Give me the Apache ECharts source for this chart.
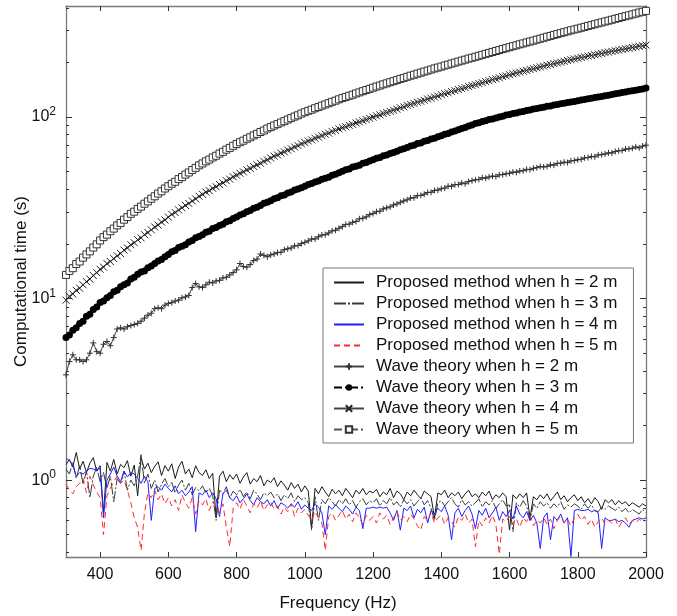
<!DOCTYPE html>
<html>
<head>
<meta charset="utf-8">
<script src="https://cdn.jsdelivr.net/npm/echarts@6/dist/echarts.min.js"></script>
<style>
  html, body { margin: 0; padding: 0; background: #fff; }
  #chart { width: 677px; height: 616px; }
</style>
</head>
<body>
<div id="chart"></div>
<script>
// frequency grid, 300..2000 Hz every 10 Hz
const freqStart = 300
const freqStep = 10

// proposed method, computational time (s)
const propH2 = [
  1.22, 1.30, 1.18, 1.42, 1.15, 1.27, 1.10, 1.24, 1.33, 1.12,
  1.20, 0.66, 1.25, 1.12, 1.30, 1.08, 1.22, 1.17, 1.28, 1.05,
  1.21, 0.82, 1.33, 1.15, 1.24, 1.10, 1.19, 1.26, 1.06, 1.20,
  1.12, 1.23, 1.02, 1.18, 1.27, 1.08, 1.15, 1.03, 1.20, 1.10,
  1.06, 1.14, 1.02, 1.09, 0.62, 1.05, 1.12, 0.98, 1.07, 1.01,
  1.08, 0.96, 1.04, 1.10, 0.95, 1.02, 0.98, 1.06, 0.93, 1.00,
  0.97, 1.03, 0.92, 0.99, 0.94, 0.88, 0.97, 0.90, 0.95, 0.86,
  0.93, 0.87, 0.55, 0.90, 0.84, 0.92, 0.86, 0.81, 0.89, 0.84,
  0.88, 0.82, 0.90, 0.85, 0.80, 0.88, 0.84, 0.90, 0.83, 0.87,
  0.85, 0.89, 0.81, 0.86, 0.83, 0.90, 0.80, 0.87, 0.84, 0.78,
  0.86, 0.82, 0.88, 0.83, 0.79, 0.87, 0.84, 0.81, 0.62, 0.85,
  0.83, 0.88, 0.80, 0.85, 0.82, 0.86, 0.79, 0.84, 0.88, 0.81,
  0.84, 0.80, 0.86, 0.82, 0.87, 0.78, 0.83, 0.80, 0.85, 0.81,
  0.53, 0.83, 0.79, 0.84, 0.80, 0.85, 0.62, 0.81, 0.78, 0.83,
  0.79, 0.84, 0.77, 0.81, 0.86, 0.78, 0.82, 0.76, 0.80, 0.83,
  0.77, 0.81, 0.75, 0.79, 0.74, 0.80, 0.76, 0.69, 0.78, 0.75,
  0.78, 0.73, 0.77, 0.74, 0.76, 0.72, 0.75, 0.73, 0.71, 0.74,
  0.72
]
const propH3 = [
  1.15, 1.08, 1.25, 1.02, 1.20, 0.95, 1.12, 0.80, 1.05, 1.18,
  0.98, 1.10, 0.90, 1.05, 0.76, 1.02, 0.95, 1.12, 0.88, 1.00,
  0.93, 1.05, 1.38, 0.96, 1.08, 0.90, 1.00, 0.86, 0.95, 1.02,
  0.92, 0.97, 0.85, 0.94, 1.00, 0.88, 0.96, 0.83, 0.91, 0.87,
  0.93, 0.85, 0.90, 0.82, 0.60, 0.88, 0.84, 0.92, 0.80, 0.87,
  0.83, 0.89, 0.81, 0.86, 0.79, 0.88, 0.84, 0.78, 0.85, 0.82,
  0.86, 0.80, 0.84, 0.77, 0.83, 0.79, 0.85, 0.76, 0.82, 0.78,
  0.80, 0.75, 0.53, 0.81, 0.60, 0.78, 0.74, 0.80, 0.76, 0.72,
  0.78, 0.74, 0.79, 0.73, 0.77, 0.71, 0.76, 0.79, 0.73, 0.77,
  0.75, 0.79, 0.72, 0.77, 0.74, 0.80, 0.73, 0.76, 0.71, 0.78,
  0.74, 0.78, 0.72, 0.76, 0.80, 0.73, 0.77, 0.70, 0.60, 0.75,
  0.77, 0.72, 0.76, 0.80, 0.74, 0.71, 0.78, 0.73, 0.76, 0.72,
  0.75, 0.79, 0.71, 0.76, 0.73, 0.77, 0.70, 0.74, 0.78, 0.72,
  0.73, 0.52, 0.75, 0.71, 0.77, 0.72, 0.60, 0.74, 0.70, 0.76,
  0.72, 0.75, 0.70, 0.74, 0.71, 0.76, 0.69, 0.73, 0.71, 0.74,
  0.72, 0.69, 0.74, 0.70, 0.73, 0.68, 0.67, 0.71, 0.69, 0.72,
  0.70, 0.68, 0.71, 0.67, 0.70, 0.66, 0.69, 0.67, 0.65, 0.69,
  0.66
]
const propH4 = [
  1.32, 1.28, 1.22, 1.05, 1.10, 1.08, 1.12, 1.16, 1.15, 1.14,
  1.16, 0.62, 1.00, 1.08, 1.18, 1.05, 0.98, 1.12, 1.04, 1.10,
  1.08, 1.02, 0.96, 1.05, 0.98, 0.60, 0.90, 0.92, 0.88, 0.95,
  0.90, 0.86, 0.93, 0.84, 0.88, 0.82, 0.86, 0.92, 0.52, 0.85,
  0.83, 0.88, 0.80, 0.85, 0.79, 0.63, 0.84, 0.88, 0.80, 0.77,
  0.82, 0.75, 0.79, 0.84, 0.77, 0.73, 0.80, 0.76, 0.74, 0.78,
  0.72, 0.77, 0.70, 0.75, 0.73, 0.70, 0.74, 0.71, 0.76, 0.69,
  0.73, 0.70, 0.68, 0.74, 0.71, 0.66, 0.50, 0.72, 0.69, 0.73,
  0.70, 0.67, 0.72, 0.69, 0.65, 0.71, 0.68, 0.54, 0.70, 0.70,
  0.71, 0.70, 0.71, 0.70, 0.71, 0.66, 0.60, 0.68, 0.53, 0.70,
  0.68, 0.72, 0.62, 0.69, 0.66, 0.71, 0.58, 0.68, 0.65, 0.70,
  0.67, 0.72, 0.64, 0.47, 0.66, 0.70, 0.63, 0.68, 0.72, 0.65,
  0.54, 0.68, 0.64, 0.70, 0.62, 0.66, 0.71, 0.60, 0.67, 0.63,
  0.68, 0.61, 0.72, 0.65, 0.62, 0.67, 0.60, 0.64, 0.58, 0.42,
  0.62, 0.66, 0.47, 0.63, 0.60, 0.65, 0.58, 0.62, 0.38, 0.68,
  0.69, 0.68, 0.68, 0.69, 0.67, 0.68, 0.66, 0.42, 0.62, 0.60,
  0.60, 0.61, 0.59, 0.60, 0.58, 0.55, 0.60, 0.61, 0.62, 0.61,
  0.62
]
const propH5 = [
  0.95, 0.88, 0.84, 0.92, 0.96, 1.02, 0.85, 1.05, 0.94, 0.86,
  0.80, 0.50, 0.82, 0.90, 0.98, 1.05, 0.96, 1.00, 0.88, 0.75,
  0.62, 0.55, 0.41, 0.66, 0.85, 0.80, 0.88, 0.78, 0.84, 0.74,
  0.80, 0.72, 0.78, 0.68, 0.83, 0.75, 0.70, 0.80, 0.65, 0.77,
  0.73, 0.79, 0.68, 0.76, 0.71, 0.66, 0.74, 0.55, 0.43, 0.70,
  0.75, 0.69, 0.78, 0.72, 0.66, 0.74, 0.70, 0.77, 0.68, 0.73,
  0.76, 0.69, 0.72, 0.65, 0.71, 0.67, 0.74, 0.63, 0.70, 0.66,
  0.69, 0.64, 0.60, 0.67, 0.62, 0.58, 0.41, 0.63, 0.66, 0.60,
  0.64, 0.68, 0.61, 0.65, 0.59, 0.66, 0.62, 0.57, 0.64, 0.60,
  0.63, 0.58, 0.66, 0.61, 0.64, 0.57, 0.62, 0.67, 0.60, 0.63,
  0.59, 0.65, 0.61, 0.56, 0.53, 0.63, 0.60, 0.66, 0.58, 0.62,
  0.64, 0.57, 0.62, 0.59, 0.55, 0.63, 0.60, 0.65, 0.58, 0.61,
  0.43, 0.60, 0.56, 0.62, 0.58, 0.64, 0.57, 0.39, 0.61, 0.59,
  0.63, 0.57, 0.61, 0.55, 0.62, 0.59, 0.64, 0.56, 0.60, 0.58,
  0.62, 0.57, 0.61, 0.54, 0.60, 0.63, 0.58, 0.61, 0.56, 0.62,
  0.65, 0.60, 0.63, 0.57, 0.61, 0.55, 0.59, 0.62, 0.57, 0.60,
  0.58, 0.61, 0.55, 0.59, 0.62, 0.57, 0.60, 0.58, 0.61, 0.59,
  0.60
]

// wave theory, computational time (s)
const waveH2 = [
  3.8, 4.5, 4.9, 4.6, 4.6, 4.5, 4.6, 5.0, 5.7, 5.1,
  5.0, 5.6, 5.8, 5.5, 6.1, 6.8, 6.9, 6.8, 7.0, 7.1,
  7.2, 7.3, 7.5, 7.8, 8.1, 8.3, 8.8, 8.9, 8.8, 9.2,
  9.4, 9.5, 9.7, 9.8, 10.1, 10.2, 10.4, 11.5, 12.1, 11.6,
  11.5, 11.9, 12.3, 12.2, 12.5, 12.6, 13.0, 13.1, 13.5, 13.9,
  14.4, 15.6, 15.0, 14.9, 15.4, 16.2, 16.5, 17.6, 17.3, 17.0,
  17.4, 17.6, 17.9, 18.0, 18.6, 18.8, 19.0, 19.5, 19.6, 20.1,
  20.4, 20.8, 21.3, 21.3, 21.9, 22.4, 22.5, 23.0, 23.6, 23.8,
  24.4, 24.9, 25.6, 25.7, 26.3, 26.6, 27.5, 27.7, 28.2, 29.0,
  29.4, 30.1, 30.3, 31.2, 31.6, 32.0, 32.8, 33.2, 33.9, 34.5,
  35.0, 35.8, 35.9, 36.9, 37.0, 37.6, 38.4, 38.5, 39.4, 39.6,
  40.3, 40.6, 41.6, 41.5, 42.4, 42.5, 43.4, 42.9, 44.1, 44.6,
  45.1, 45.3, 46.3, 46.0, 46.8, 47.3, 47.0, 48.1, 48.2, 48.7,
  49.0, 49.8, 49.6, 50.5, 50.6, 51.5, 51.3, 52.2, 52.6, 53.4,
  53.1, 53.5, 54.6, 54.3, 55.5, 55.7, 56.4, 56.1, 57.4, 57.6,
  58.2, 58.5, 59.6, 59.8, 60.7, 60.4, 61.9, 62.1, 62.6, 63.5,
  63.4, 64.6, 65.2, 65.4, 66.6, 66.8, 67.3, 68.5, 67.6, 69.2,
  70.0
]
const waveH3 = [
  6.1, 6.3, 6.7, 6.9, 7.3, 7.5, 8.0, 8.2, 8.7, 9.0,
  9.5, 9.7, 10.1, 10.4, 10.9, 11.1, 11.6, 11.9, 12.2, 12.8,
  13.1, 13.6, 14.0, 14.2, 14.8, 15.1, 15.6, 16.1, 16.4, 17.0,
  17.5, 18.1, 18.4, 19.1, 19.4, 19.8, 20.5, 20.9, 21.6, 22.0,
  22.5, 23.2, 23.5, 24.3, 24.6, 25.3, 25.7, 26.5, 26.8, 27.6,
  28.1, 28.9, 29.3, 30.1, 30.6, 31.4, 31.8, 32.6, 33.5, 33.9,
  34.6, 35.5, 35.9, 36.8, 37.2, 38.2, 38.7, 39.6, 40.2, 40.8,
  41.6, 42.5, 43.0, 43.9, 44.4, 45.4, 46.0, 46.6, 47.8, 48.4,
  49.4, 50.2, 51.3, 51.8, 53.0, 53.6, 54.3, 55.6, 56.1, 57.3,
  58.1, 59.2, 59.9, 61.2, 61.8, 63.0, 63.8, 64.9, 66.0, 66.8,
  68.0, 69.2, 70.0, 71.4, 72.0, 73.5, 74.3, 75.6, 76.5, 77.9,
  78.8, 80.3, 81.2, 82.8, 83.7, 85.2, 86.4, 87.6, 89.3, 90.4,
  92.1, 93.1, 94.6, 95.3, 96.8, 97.6, 98.9, 100.2, 101.0, 102.6,
  103.4, 104.6, 105.3, 106.6, 107.3, 108.6, 109.4, 110.7, 111.5, 112.6,
  113.4, 114.6, 115.2, 116.5, 117.1, 118.3, 119.2, 120.1, 121.2, 121.8,
  123.0, 124.2, 124.8, 126.1, 126.8, 128.0, 128.9, 129.8, 131.1, 131.9,
  133.3, 134.5, 135.2, 136.6, 137.3, 138.6, 139.5, 140.6, 141.9, 142.8,
  144.4
]
const waveH4 = [
  9.8, 10.3, 10.6, 11.1, 11.4, 11.9, 12.4, 12.8, 13.4, 13.9,
  14.5, 14.9, 15.6, 16.0, 16.6, 17.2, 17.7, 18.5, 19.0, 19.8,
  20.3, 21.1, 21.6, 22.5, 23.1, 23.9, 24.8, 25.4, 26.4, 27.1,
  28.1, 29.1, 29.8, 30.8, 31.6, 32.6, 33.4, 34.5, 35.4, 36.6,
  37.5, 38.6, 39.3, 40.5, 41.3, 42.5, 43.4, 44.6, 45.5, 46.9,
  47.8, 49.0, 49.9, 51.2, 52.1, 53.4, 54.5, 55.6, 57.0, 58.1,
  59.5, 60.9, 61.8, 63.3, 64.3, 65.8, 66.9, 68.4, 69.6, 71.2,
  72.3, 73.8, 74.8, 76.4, 77.5, 79.0, 80.4, 81.5, 83.3, 84.4,
  86.0, 87.4, 88.5, 90.0, 91.1, 92.8, 93.9, 95.5, 96.8, 98.4,
  99.9, 101.6, 102.8, 104.6, 105.9, 107.5, 109.1, 110.5, 112.5, 113.8,
  115.9, 117.4, 118.8, 120.6, 122.1, 123.6, 125.6, 127.0, 129.1, 130.5,
  132.8, 134.5, 136.0, 138.2, 139.6, 141.8, 143.4, 145.2, 147.4, 149.0,
  150.8, 152.9, 154.6, 156.8, 158.4, 160.8, 162.6, 164.5, 167.0, 168.7,
  170.9, 172.9, 174.8, 176.7, 178.9, 180.6, 182.9, 184.7, 186.9, 188.8,
  190.8, 193.0, 194.6, 196.9, 198.6, 200.8, 202.7, 204.8, 206.8, 208.7,
  210.9, 212.9, 214.4, 216.7, 218.3, 220.4, 222.3, 224.0, 226.3, 227.9,
  230.1, 231.8, 233.8, 235.6, 237.7, 239.3, 241.6, 243.2, 245.4, 247.0,
  249.2
]
const waveH5 = [
  13.5, 14.2, 14.7, 15.5, 16.0, 16.8, 17.5, 18.2, 19.1, 19.9,
  20.9, 21.8, 22.5, 23.5, 24.3, 25.3, 26.1, 27.2, 28.1, 29.3,
  30.1, 31.2, 32.1, 33.3, 34.3, 35.5, 36.6, 37.9, 39.0, 40.4,
  41.6, 42.9, 44.0, 45.5, 46.7, 48.2, 49.5, 51.1, 52.5, 54.2,
  55.5, 57.0, 58.3, 59.9, 61.2, 62.9, 64.3, 66.1, 67.6, 69.4,
  71.0, 72.7, 74.1, 75.9, 77.4, 79.2, 80.8, 82.7, 84.3, 86.4,
  88.0, 89.8, 91.4, 93.3, 94.9, 96.9, 98.6, 100.6, 102.3, 104.5,
  106.3, 108.2, 109.8, 111.8, 113.5, 115.5, 117.3, 119.2, 121.3, 123.1,
  125.2, 127.2, 128.9, 130.9, 132.7, 134.9, 136.7, 138.8, 140.9, 142.9,
  145.1, 147.3, 149.1, 151.4, 153.3, 155.6, 157.6, 159.8, 162.2, 164.2,
  166.6, 169.0, 171.0, 173.4, 175.5, 178.0, 180.2, 182.6, 185.2, 187.3,
  189.6, 192.2, 194.4, 197.1, 199.4, 202.0, 204.5, 207.0, 209.9, 212.1,
  214.7, 217.5, 220.0, 222.9, 225.5, 228.3, 231.1, 233.8, 237.0, 239.6,
  242.6, 245.7, 248.4, 251.6, 254.4, 257.6, 260.6, 263.5, 267.0, 270.0,
  273.4, 276.8, 279.8, 283.4, 286.6, 289.9, 293.4, 296.6, 300.5, 303.6,
  306.8, 310.5, 313.8, 317.6, 321.0, 324.7, 328.4, 332.0, 336.0, 339.6,
  343.5, 347.6, 351.3, 355.6, 359.4, 363.4, 367.7, 371.6, 376.2, 380.1,
  384.5
]

const xTicks = [400, 600, 800, 1000, 1200, 1400, 1600, 1800, 2000]
const yMajor = [1, 10, 100]
const yMinor = [0.4, 0.5, 0.6, 0.7, 0.8, 0.9, 2, 3, 4, 5, 6, 7, 8, 9,
  20, 30, 40, 50, 60, 70, 80, 90, 200, 300, 400]

const names = [
  'Proposed method when h = 2 m',
  'Proposed method when h = 3 m',
  'Proposed method when h = 4 m',
  'Proposed method when h = 5 m',
  'Wave theory when h = 2 m',
  'Wave theory when h = 3 m',
  'Wave theory when h = 4 m',
  'Wave theory when h = 5 m'
]

function pairs (vals) {
  return vals.map((v, i) => [freqStart + i * freqStep, v])
}

const font = 'Liberation Sans, Arial, sans-serif'
const frame = '#7a7a7a'
const yMin = 0.377
const yMax = 409

function yAx (pos, ticks, len, showLine, showLabel) {
  return {
    type: 'log',
    logBase: 10,
    position: pos,
    min: yMin,
    max: yMax,
    name: showLabel ? 'Computational time (s)' : '',
    nameLocation: 'middle',
    nameGap: 36,
    nameMoveOverlap: false,
    nameTextStyle: { fontFamily: font, fontSize: 17, color: '#111' },
    axisLine: { show: showLine, lineStyle: { color: frame, width: 1.3 } },
    axisTick: { show: true, inside: true, length: len, customValues: ticks, lineStyle: { color: '#333', width: 1 } },
    axisLabel: {
      show: showLabel,
      customValues: yMajor,
      margin: 10,
      fontFamily: font,
      fontSize: 16,
      color: '#111',
      formatter: v => '10{sup|' + Math.round(Math.log10(v)) + '}',
      rich: { sup: { fontSize: 12, fontFamily: font, color: '#111', verticalAlign: 'top', padding: [0, 0, 10, 0] } }
    },
    splitLine: { show: false },
    minorTick: { show: false }
  }
}

function xAx (pos, showLabel) {
  return {
    type: 'value',
    position: pos,
    min: 300,
    max: 2000,
    name: showLabel ? 'Frequency (Hz)' : '',
    nameLocation: 'middle',
    nameGap: 38,
    nameMoveOverlap: false,
    nameTextStyle: { fontFamily: font, fontSize: 17, color: '#111', padding: [0, 36, 0, 0] },
    axisLine: { show: true, onZero: false, lineStyle: { color: frame, width: 1.3 } },
    axisTick: { show: true, inside: true, length: 5, customValues: xTicks, lineStyle: { color: '#333' } },
    axisLabel: {
      show: showLabel,
      customValues: xTicks,
      margin: 10,
      fontFamily: font,
      fontSize: 16,
      color: '#111',
      formatter: v => String(v)
    },
    splitLine: { show: false }
  }
}

const crossPath = 'path://M0,0L10,10M10,0L0,10'
const plusPath = 'path://M0,5L10,5M5,0L5,10'

// proposed-method legend entries show the line only
const legendData = names.map((n, i) => i < 4 ? { name: n, itemStyle: { opacity: 0 } } : { name: n })

const chart = echarts.init(document.getElementById('chart'), null, { renderer: 'canvas' })
chart.setOption({
  animation: false,
  backgroundColor: '#fff',
  grid: { left: 66, right: 31, top: 6, bottom: 59, containLabel: false, outerBoundsMode: 'none' },
  xAxis: [xAx('bottom', true), xAx('top', false)],
  yAxis: [
    yAx('left', yMajor, 6, true, true),
    yAx('left', yMinor, 3, false, false),
    yAx('right', yMajor, 6, true, false),
    yAx('right', yMinor, 3, false, false)
  ],
  legend: {
    orient: 'vertical',
    left: 323,
    top: 268,
    itemWidth: 30,
    itemHeight: 8,
    itemGap: 4,
    padding: [6, 16, 5, 10],
    backgroundColor: '#fff',
    borderColor: '#777',
    borderWidth: 1,
    borderRadius: 0,
    align: 'left',
    data: legendData,
    textStyle: { fontFamily: font, fontSize: 17, color: '#111', padding: [0, 0, 0, 7] }
  },
  series: [
    {
      name: names[0], type: 'line', data: pairs(propH2), showSymbol: false,
      lineStyle: { color: '#1a1a1a', width: 1 }, itemStyle: { color: '#1a1a1a' }
    },
    {
      name: names[1], type: 'line', data: pairs(propH3), showSymbol: false,
      lineStyle: { color: '#3a3a3a', width: 1, type: [12, 2, 2, 2] }, itemStyle: { color: '#3a3a3a' }
    },
    {
      name: names[2], type: 'line', data: pairs(propH4), showSymbol: false,
      lineStyle: { color: '#2020ff', width: 1 }, itemStyle: { color: '#2020ff' }
    },
    {
      name: names[3], type: 'line', data: pairs(propH5), showSymbol: false,
      lineStyle: { color: '#ff2a2a', width: 1, type: [6, 4] }, itemStyle: { color: '#ff2a2a' }
    },
    {
      name: names[4], type: 'line', data: pairs(waveH2), symbol: plusPath, symbolSize: 6,
      lineStyle: { color: '#444', width: 1 },
      itemStyle: { color: 'rgba(0,0,0,0)', borderColor: '#333', borderWidth: 1 }
    },
    {
      name: names[5], type: 'line', data: pairs(waveH3), symbol: 'circle', symbolSize: 7,
      lineStyle: { color: '#000', width: 1.5, type: [8, 3, 2, 3] },
      itemStyle: { color: '#000', borderWidth: 0 }
    },
    {
      name: names[6], type: 'line', data: pairs(waveH4), symbol: crossPath, symbolSize: 7,
      lineStyle: { color: '#444', width: 1 },
      itemStyle: { color: 'rgba(0,0,0,0)', borderColor: '#222', borderWidth: 1 }
    },
    {
      name: names[7], type: 'line', data: pairs(waveH5), symbol: 'rect', symbolSize: 7,
      lineStyle: { color: '#555', width: 1, type: [8, 3, 2, 3] },
      itemStyle: { color: '#fff', borderColor: '#333', borderWidth: 1 }
    }
  ]
})
</script>
</body>
</html>
